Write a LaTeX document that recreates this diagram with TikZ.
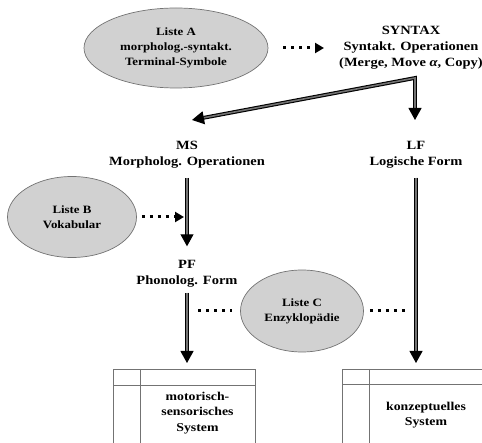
\documentclass[tikz,border=0pt]{standalone}
\usepackage{fontspec}
\setmainfont{Liberation Serif}[FakeStretch=1.15]
\usetikzlibrary{arrows.meta,calc,shapes.geometric}
\tikzset{
  liste/.style={ellipse, draw=black!55, fill=black!18, line width=0.7pt, inner sep=0pt, align=center,
    font=\bfseries\fontsize{11.2}{15}\selectfont},
  ebene/.style={inner sep=0pt, align=center, font=\bfseries\fontsize{12.6}{16}\selectfont},
  kasten/.style={draw=black!55, line width=0.7pt, minimum width=142pt, minimum height=90pt, anchor=north west},
  doppelpfeil/.style={line width=1.1pt, double=black!55, double distance=1.6pt, -{Triangle[length=12pt,width=13pt]}},
  punktlinie/.style={line width=3pt, dash pattern=on 3pt off 5pt},
  punktpfeil/.style={punktlinie, -{Triangle[length=9pt,width=10pt]}}
}
\begin{document}
\begin{tikzpicture}[x=1pt, y=-1pt]
	%%%%% START %%%%%
	\useasboundingbox (0,0) rectangle (482,443);
	\clip (0,0) rectangle (482,443);
	
	\node[liste, minimum width=184pt, minimum height=80pt] (listeA) at (176, 48) {Liste A\\morpholog.-syntakt.\\Terminal-Symbole};
	\node[ebene] (syntax) at (411, 48) {SYNTAX\\Syntakt. Operationen\\(Merge, Move \textit{α}, Copy)};
	\draw[punktpfeil, shorten <=15pt, shorten >=15pt] (listeA.east) -- (syntax.west |- listeA.east);
	
	\node[ebene] (ms) at (187, 155) {MS\\Morpholog. Operationen};
	\node[ebene] (lf) at (416, 155) {LF\\Logische Form};
	
	\coordinate (knick) at (415, 78);
	\coordinate (msin) at (192, 120);
	\coordinate (lfin) at (415, 120);
	\draw[doppelpfeil, {Triangle[length=12pt,width=13pt]}-{Triangle[length=12pt,width=13pt]}] (msin) -- (knick) -- (lfin);
	
	\node[liste, minimum width=129pt, minimum height=81pt] (listeB) at (72, 217) {Liste B\\Vokabular};
	\node[ebene] (pf) at (187, 274) {PF\\Phonolog. Form};
	\draw[doppelpfeil, shorten <=9pt, shorten >=14pt] (ms.south) -- (pf.north);
	\draw[punktpfeil, shorten <=5pt, shorten >=3pt] (listeB.east) -- (ms.south |- listeB.east);
	
	\node[liste, minimum width=123pt, minimum height=82pt] (listeC) at (302, 311) {Liste C\\Enzyklopädie};
	
	\node[kasten] (motorbox) at (113, 369) {};
	\draw[black!55, line width=0.7pt] ($(motorbox.north west)+(0,16)$) -- ($(motorbox.north east)+(0,16)$);
	\draw[black!55, line width=0.7pt] ($(motorbox.north west)+(27,0)$) -- ($(motorbox.south west)+(27,0)$);
	\node[ebene, font=\bfseries\fontsize{12}{15.5}\selectfont] (motor) at (197.5, 413) {motorisch-\\sensorisches\\System};
	
	\node[kasten] (konzbox) at (342, 369) {};
	\draw[black!55, line width=0.7pt] ($(konzbox.north west)+(0,15)$) -- ($(konzbox.north east)+(0,15)$);
	\draw[black!55, line width=0.7pt] ($(konzbox.north west)+(27,0)$) -- ($(konzbox.south west)+(27,0)$);
	\node[ebene, font=\bfseries\fontsize{12}{15.5}\selectfont] (konz) at (426, 415) {konzeptuelles\\System};
	
	\draw[doppelpfeil, shorten <=5pt, shorten >=6pt] (pf.south) -- (pf.south |- motorbox.north);
	\draw[doppelpfeil, shorten <=9pt, shorten >=6pt] (lf.south) -- (lf.south |- konzbox.north);
	
	\draw[punktlinie, shorten <=11pt, shorten >=8pt] (pf.south |- listeC.west) -- (listeC.west);
	\draw[punktlinie, shorten <=6pt, shorten >=8pt] (listeC.east) -- (lf.south |- listeC.east);
	%%%%% END %%%%%
\end{tikzpicture}
\end{document}
